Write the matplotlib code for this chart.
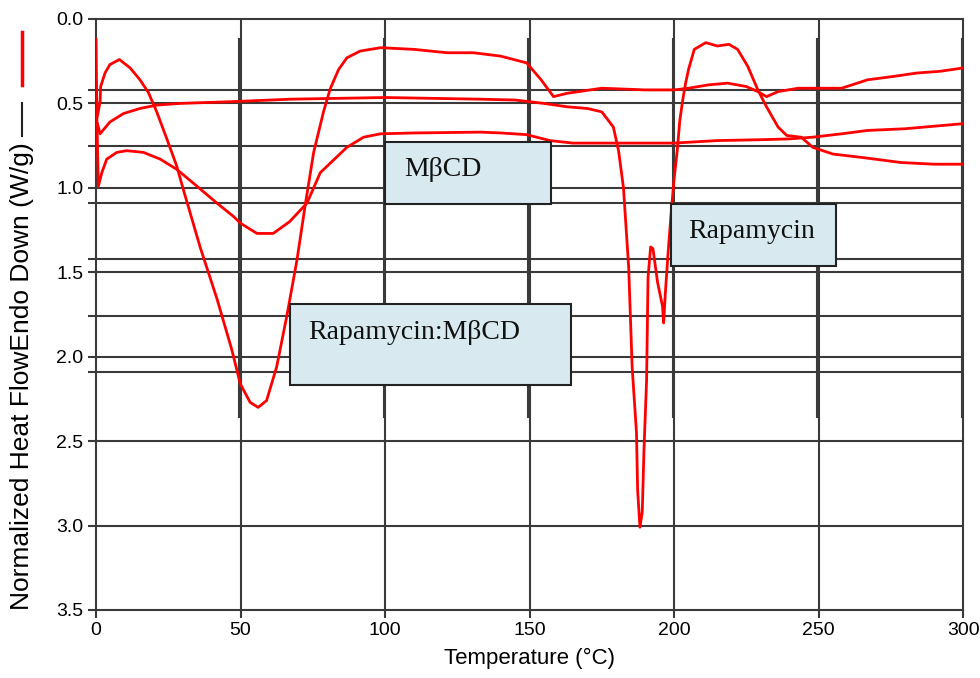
import matplotlib.pyplot as plt
from matplotlib.patches import Rectangle
from matplotlib.lines import Line2D

# Rapamycin:MbCD trace (temperature C, heat flow W/g)
complex_t = [0, 0.3, 1.4, 1.6, 3.1, 4.8, 8.1, 11.8, 15.2, 18.1, 21, 24.5, 27.9, 30.2, 32.6, 36, 41.9,
             47, 49.9, 53.3, 56.1, 59, 62.5, 66, 69.5, 72.4, 75.3, 78.7, 81, 83.9, 86.8, 91.4, 98.4,
             110, 121.5, 130.6, 140, 149, 154, 158.3, 163, 175, 190, 200, 205, 212, 218.5, 225, 229,
             232, 236, 243, 250, 258, 267, 276, 284, 292, 300]
complex_hf = [0.12, 0.59, 0.49, 0.40, 0.32, 0.27, 0.24, 0.29, 0.36, 0.435, 0.55, 0.71, 0.87, 1.01,
              1.15, 1.35, 1.66, 1.96, 2.16, 2.27, 2.30, 2.26, 2.06, 1.76, 1.43, 1.10, 0.79, 0.55, 0.415,
              0.30, 0.23, 0.19, 0.17, 0.18, 0.20, 0.20, 0.22, 0.26, 0.36, 0.46, 0.44, 0.41, 0.42, 0.42,
              0.41, 0.39, 0.38, 0.40, 0.43, 0.46, 0.43, 0.41, 0.41, 0.41, 0.36, 0.34, 0.32, 0.31, 0.29]

# Rapamycin trace
rapa_t = [0.5, 1.4, 4.8, 9.5, 15.2, 21, 29, 46.4, 67.2, 100, 133, 145, 155, 163, 170, 175, 179, 180.8,
          182.5, 184.3, 185.5, 187.0, 187.4, 188.2, 189.0, 189.6, 190.5, 191.0, 191.9, 192.7, 194.3,
          196.0, 196.4, 197.0, 198.0, 199.0, 200.0, 201.1, 202, 203, 204, 205, 207, 211, 215, 219, 222,
          225.5, 229, 232, 236, 239, 244, 248, 255, 265, 278.5, 290, 300]
rapa_hf = [0.62, 0.68, 0.61, 0.56, 0.53, 0.51, 0.50, 0.49, 0.475, 0.465, 0.475, 0.48, 0.50, 0.52, 0.53,
           0.55, 0.64, 0.78, 1.0, 1.47, 2.06, 2.45, 2.79, 3.01, 2.92, 2.55, 2.14, 1.53, 1.35, 1.36, 1.56,
           1.70, 1.80, 1.62, 1.37, 1.15, 0.95, 0.78, 0.60, 0.48, 0.38, 0.30, 0.18, 0.14, 0.16, 0.15,
           0.18, 0.28, 0.42, 0.52, 0.64, 0.69, 0.70, 0.76, 0.80, 0.82, 0.85, 0.86, 0.86]

# MbCD trace
mbcd_t = [0.3, 0.8, 2, 3.7, 7.2, 10.6, 16.4, 22.2, 27.9, 34.9, 41.8, 47.6, 50, 55.7, 61.3, 67, 73,
          77.6, 86.8, 92.6, 98.4, 110, 133, 140, 149, 157, 165, 180, 200, 215, 230, 240, 248, 258,
          267, 280, 290, 300]
mbcd_hf = [0.60, 0.99, 0.91, 0.83, 0.79, 0.78, 0.79, 0.83, 0.89, 0.99, 1.09, 1.17, 1.21, 1.27, 1.27,
           1.20, 1.09, 0.91, 0.76, 0.70, 0.68, 0.675, 0.67, 0.675, 0.685, 0.72, 0.735, 0.735, 0.735,
           0.72, 0.715, 0.71, 0.70, 0.68, 0.66, 0.65, 0.635, 0.62]

x_ticks = [0, 50, 100, 150, 200, 250, 300]
y_ticks = [0.0, 0.5, 1.0, 1.5, 2.0, 2.5, 3.0, 3.5]
# extra gridlines left over from the overlaid instrument plots
extra_h = [0.42, 0.75, 1.09, 1.42, 1.76, 2.09]

labels = ['Rapamycin:M\u03b2CD', 'M\u03b2CD', 'Rapamycin']
# boxes: (x0, x1, y_top, y_bottom, text_x, text_y)
boxes = [(67.0, 164.5, 1.69, 2.17, 73.4, 1.855),
         (100.0, 157.5, 0.73, 1.095, 106.7, 0.89),
         (198.8, 256.0, 1.095, 1.465, 205.0, 1.257)]

grid_col = '#3a3a3a'
fig = plt.figure(figsize=(9.8, 6.78), dpi=100)
ax = fig.add_axes([0.098, 0.1003, 0.8847, 0.8717])

for v in x_ticks[1:-1]:
    ax.axvline(v, color=grid_col, lw=1.5, zorder=1)
for v in x_ticks:
    ax.plot([v - 0.5, v - 0.5], [0.12, 2.36], color=grid_col, lw=1.5, zorder=1)
for h in y_ticks[1:-1] + extra_h:
    ax.axhline(h, color=grid_col, lw=1.5, zorder=1)

ax.plot(complex_t, complex_hf, color='#ff0000', lw=2, zorder=3)
ax.plot(rapa_t, rapa_hf, color='#ff0000', lw=2, zorder=3)
ax.plot(mbcd_t, mbcd_hf, color='#ff0000', lw=2, zorder=3)

for (x0, x1, yt, yb, tx, ty), lab in zip(boxes, labels):
    ax.add_patch(Rectangle((x0, yt), x1 - x0, yb - yt, facecolor='#d8eaf0',
                           edgecolor='#222222', lw=1.5, zorder=4))
    ax.text(tx, ty, lab, family='Liberation Serif', fontsize=20, color='#111111',
            va='center', ha='left', zorder=5)

ax.set_xlim(0, 300)
ax.set_ylim(3.5, 0.0)
ax.set_xticks(x_ticks)
ax.set_yticks(y_ticks)
ax.set_yticks(extra_h, minor=True)
ax.set_yticklabels(['%.1f' % v for v in y_ticks])
ax.tick_params(which='both', direction='out', length=6, width=1.5, color=grid_col,
               labelsize=14, pad=3)
for s in ax.spines.values():
    s.set_color(grid_col)
    s.set_linewidth(1.5)
for lab in ax.get_xticklabels() + ax.get_yticklabels():
    lab.set_family('Liberation Sans')

ax.set_xlabel('Temperature (\u00b0C)', family='Liberation Sans', fontsize=16, labelpad=6)
fig.text(0.0224, 0.4454, 'Normalized Heat FlowEndo Down (W/g)', family='Liberation Sans',
         fontsize=19, rotation=90, ha='center', va='center')
fig.add_artist(Line2D([0.0224, 0.0224], [0.953, 0.875], color='#ff0000', lw=2.5))
fig.add_artist(Line2D([0.0224, 0.0224], [0.848, 0.799], color='#222222', lw=1.5))

fig.savefig('out.png', dpi=100)
